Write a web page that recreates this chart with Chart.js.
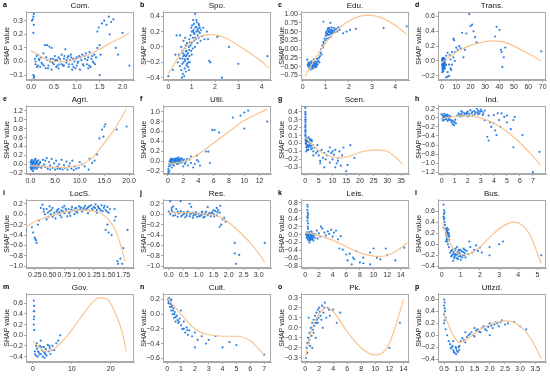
<!DOCTYPE html>
<html lang="en">
<head>
<meta charset="UTF-8">
<title>SHAP dependence plots</title>
<style>
  body { margin: 0; background: #fff; }
  #grid { position: relative; width: 550px; height: 376px; }
  #grid canvas { position: absolute; }
</style>
</head>
<body>
<div id="grid"></div>
<script src="https://cdn.jsdelivr.net/npm/chart.js"></script>
<script>
// scatter points [x, shap] and fitted curve points per panel

const comPts = [[0.05,0.33],[0.06,0.35],[0.04,0.31],[0.02,0.30],[0.06,0.27],[0.05,0.21],[0.05,-0.10],[0.06,-0.12],[0.07,-0.11],
  [0.08,0.02],[0.1,-0.02],[0.12,0.04],[0.15,-0.03],[0.18,0.01],[0.2,-0.04],[0.22,0.03],[0.25,-0.02],[0.27,0.06],[0.3,0.12],[0.32,-0.05],
  [0.35,0.01],[0.38,-0.03],[0.4,0.11],[0.42,0.0],[0.45,-0.06],[0.48,0.02],[0.5,-0.02],[0.52,0.04],[0.55,-0.04],[0.57,0.01],[0.6,0.03],
  [0.62,-0.02],[0.65,0.0],[0.67,0.05],[0.7,-0.03],[0.72,0.02],[0.75,0.09],[0.77,-0.01],[0.8,0.03],[0.82,-0.04],[0.85,0.01],[0.87,0.05],
  [0.9,-0.02],[0.92,0.02],[0.95,0.0],[0.97,-0.05],[1.0,0.03],[1.02,-0.01],[1.05,0.04],[1.07,-0.06],[1.1,0.01],[1.12,0.05],[1.15,-0.03],
  [1.18,0.02],[1.2,0.06],[1.22,-0.02],[1.25,0.03],[1.28,0.07],[1.3,-0.04],[1.33,0.04],[1.35,0.0],[1.38,0.05],[1.4,-0.02],[0.45,0.1],
  [0.35,0.12],[1.45,0.22],[1.48,0.25],[1.5,0.12],[1.52,0.05],[1.5,-0.1],[1.55,0.28],[1.6,0.3],[1.65,0.27],[1.7,0.33],[1.72,0.2],
  [1.75,0.29],[1.8,0.31],[1.85,0.1],[1.9,0.05],[2.0,0.21],[2.15,-0.03],[1.45,0.1],[0.28,-0.03],[0.6,-0.05],[0.9,-0.06],[1.25,-0.05],
  [0.15,0.05],[0.72,-0.03],[0.82,0.04],[1.0,-0.03],[0.1,0.0],[0.13,-0.04],[0.17,0.02],[0.23,-0.01],[0.33,0.03],[0.37,-0.05],
  [0.43,0.02],[0.47,-0.01],[0.53,0.01],[0.58,-0.03],[0.63,0.02],[0.68,-0.02],[0.73,0.04],[0.78,0.01],[0.83,-0.02],[0.88,0.03],
  [0.93,-0.04],[0.98,0.02],[1.03,0.0],[1.08,0.03],[1.13,-0.02],[1.17,0.04],[1.23,0.01],[1.27,-0.03],[1.32,0.02],[1.37,-0.01],[1.42,0.03]];
const comFit = [[0,0.08],[0.25,0.03],[0.5,0.0],[0.75,0.0],[1.0,0.02],[1.25,0.05],[1.5,0.09],[1.75,0.14],[2.0,0.18],[2.15,0.21]];

const spoPts = [[0.0,-0.38],[0.4,-0.2],[0.45,-0.1],[0.5,0.15],[0.5,-0.25],[0.55,-0.3],[0.55,0.0],[0.6,-0.15],[0.6,-0.05],[0.62,-0.35],
  [0.65,-0.2],[0.65,0.08],[0.68,-0.1],[0.7,-0.28],[0.7,-0.02],[0.72,-0.18],[0.75,-0.12],[0.75,-0.32],[0.78,-0.05],[0.8,-0.22],[0.8,0.05],
  [0.82,-0.15],[0.85,-0.08],[0.85,-0.26],[0.88,0.0],[0.9,-0.12],[0.9,0.1],[0.92,-0.2],[0.95,0.02],[0.95,0.15],[0.98,-0.05],[1.0,0.2],
  [1.0,0.05],[1.02,0.28],[1.05,0.12],[1.05,-0.02],[1.08,0.22],[1.1,0.3],[1.1,0.08],[1.12,0.17],[1.15,0.43],[1.15,0.25],[1.18,0.1],
  [1.2,0.2],[1.22,0.32],[1.25,0.15],[1.25,0.05],[1.28,0.24],[1.3,0.12],[1.32,0.28],[1.35,0.18],[1.38,0.08],[1.4,0.22],[1.45,0.14],
  [1.5,0.25],[1.55,0.1],[1.65,0.2],[1.7,0.1],[1.75,-0.18],[1.8,-0.2],[2.1,0.13],[2.3,-0.4],[2.6,0.0],[3.0,-0.22],[4.25,-0.12],
  [0.35,0.15],[0.3,-0.1],[0.2,-0.3],[0.58,-0.4],[0.68,-0.38],[0.72,0.12],[0.88,-0.3],[1.0,-0.1],[0.98,0.25],[1.2,0.35],[1.06,0.35],
  [0.78,-0.24],[0.62,-0.08],[0.84,-0.16],[0.92,0.06],[1.14,0.0],[1.3,0.2],[0.5,-0.15],[0.75,0.02],[0.6,-0.22],[0.65,-0.12],
  [0.7,-0.16],[0.75,-0.06],[0.8,-0.1],[0.85,-0.2],[0.9,-0.04],[1.1,0.18],[1.15,0.12],[1.2,0.26],[1.25,0.22],[1.3,0.3],[1.35,0.25],[1.05,0.2]];
const spoFit = [[0,-0.35],[0.5,-0.1],[1.0,0.07],[1.5,0.15],[1.9,0.16],[2.5,0.11],[3.0,0.02],[3.5,-0.08],[4.0,-0.19],[4.3,-0.27]];

const eduPts = [[0.2,-0.3],[0.22,-0.45],[0.25,-0.5],[0.28,-0.38],[0.3,-0.55],[0.32,-0.42],[0.35,-0.48],[0.38,-0.35],[0.4,-0.52],
  [0.42,-0.4],[0.45,-0.46],[0.48,-0.3],[0.5,-0.5],[0.52,-0.42],[0.55,-0.36],[0.58,-0.48],[0.6,-0.4],[0.62,-0.28],[0.65,-0.44],
  [0.68,-0.33],[0.7,-0.25],[0.72,-0.38],[0.75,-0.2],[0.3,-0.48],[0.4,-0.45],[0.5,-0.38],[0.55,-0.52],[0.45,-0.55],[0.35,-0.58],
  [0.6,-0.5],[0.25,-0.4],[0.78,-0.1],[0.8,0.0],[0.82,-0.15],[0.85,0.1],[0.88,0.05],[0.9,0.2],[0.92,0.15],[0.95,0.3],[0.98,0.25],
  [1.0,0.38],[1.02,0.5],[1.05,0.45],[1.08,0.55],[1.1,0.4],[1.12,0.48],[1.15,0.6],[1.18,0.42],[1.2,0.5],[1.22,0.35],[1.25,0.55],
  [1.28,0.45],[1.3,0.52],[1.35,0.6],[1.4,0.48],[1.45,0.58],[1.5,0.5],[1.55,0.62],[1.05,0.3],[1.15,0.32],[1.25,0.62],[1.0,0.45],
  [0.9,0.78],[1.2,0.75],[1.6,0.55],[1.9,0.5],[2.05,0.55],[2.3,0.58],[3.5,0.6],[4.5,0.65],[1.75,0.45],[1.1,0.6],
  [0.33,-0.5],[0.43,-0.5],[0.47,-0.42],[0.53,-0.47],[0.57,-0.44],[0.63,-0.36],[0.37,-0.4],[0.27,-0.45],[1.12,0.52],[1.18,0.56],
  [1.22,0.46],[1.28,0.5],[1.32,0.47],[1.07,0.42],[1.17,0.5],[1.38,0.54]];
const eduFit = [[0.1,-0.78],[0.5,-0.32],[1.0,0.18],[1.5,0.55],[2.0,0.8],[2.5,0.94],[2.85,0.97],[3.5,0.87],[4.0,0.68],[4.5,0.42]];

const transPts = [[0.2,0.0],[0.3,-0.05],[0.4,-0.1],[0.5,0.02],[0.5,-0.12],[0.6,-0.03],[0.7,-0.08],[0.8,0.0],[0.9,-0.14],[1.0,-0.06],
  [1.1,0.01],[1.2,-0.1],[1.3,-0.02],[1.4,0.03],[1.5,-0.05],[1.6,0.0],[1.8,-0.08],[2.0,0.02],[2.2,-0.03],[2.5,0.01],[0.3,-0.15],
  [0.6,0.04],[1.0,0.0],[1.5,0.02],[2.8,-0.05],[0.4,0.03],[1.2,0.04],[3,-0.22],[4,-0.21],[5,-0.2],[6,-0.1],[4,-0.15],[5,-0.05],
  [6,0.02],[7,0.12],[7,-0.05],[4,0.11],[3,0.07],[8,0.3],[8.5,0.28],[9,0.12],[8,0.05],[9,0.0],[10,0.18],[11,0.15],[12,0.2],[13,0.17],
  [14,0.38],[15,0.05],[16,0.15],[17,0.37],[19,0.63],[20,0.47],[21,0.49],[22,0.4],[23,0.32],[24,0.25],[24.5,0.24],[37,0.33],
  [38,0.46],[40,0.42],[41,0.15],[41.5,0.12],[42,-0.08],[43,0.05],[44,0.18],[69,0.13],[6.5,-0.12],[5.5,0.08],
  [0.3,0.02],[0.5,-0.08],[0.7,0.02],[0.9,-0.04],[1.1,-0.12],[1.3,0.04],[1.7,-0.02],[1.9,0.03],[2.1,-0.1],[2.4,-0.06],[0.2,-0.06],
  [0.8,-0.11],[1.4,-0.07]];
const transFit = [[0,-0.02],[10,0.12],[20,0.21],[30,0.26],[36,0.27],[42,0.26],[50,0.2],[60,0.1],[69,0.0]];

const agriPts = [[0.0,0.05],[0.1,-0.05],[0.2,0.08],[0.3,-0.1],[0.4,0.0],[0.5,0.06],[0.6,-0.08],[0.7,0.03],[0.8,-0.03],[0.9,0.1],
  [1.0,-0.06],[1.1,0.02],[1.2,0.07],[1.3,-0.1],[1.4,0.04],[1.5,-0.02],[1.6,0.09],[1.8,-0.05],[2.0,0.05],[2.2,-0.08],[0.2,-0.12],
  [0.5,-0.15],[1.0,0.12],[0.3,0.1],[2.5,0.1],[2.8,0.0],[3.0,-0.06],[3.3,0.14],[3.5,-0.1],[3.8,0.05],[4.0,-0.03],[4.3,0.12],
  [4.5,-0.08],[4.8,0.02],[5.0,-0.12],[5.2,0.08],[5.5,-0.05],[5.8,0.0],[6.0,-0.1],[6.3,0.1],[6.5,-0.12],[6.8,-0.02],[7.0,-0.08],
  [7.3,0.06],[7.5,-0.12],[7.8,-0.04],[8.0,0.02],[8.3,-0.1],[8.5,0.08],[8.8,-0.13],[9.0,-0.05],[9.3,-0.1],[4.0,-0.12],[5.5,-0.1],
  [3.0,0.08],[2.5,-0.04],[10,0.05],[10.5,0.0],[11,-0.05],[11.8,-0.12],[12.5,0.03],[13,0.08],[13.5,0.22],[12,0.12],[14,0.58],
  [14.5,0.78],[14.8,0.62],[15,0.85],[15.2,0.9],[17.5,0.78],[19.5,0.85],[9.8,-0.08],
  [0.15,0.0],[0.35,0.04],[0.45,-0.06],[0.55,0.02],[0.65,-0.03],[0.75,0.07],[0.85,-0.1],[0.95,0.0],[1.15,-0.04],[1.25,0.02],
  [1.35,0.06],[1.45,-0.07],[1.7,0.0],[1.9,0.03],[0.05,-0.08],[0.25,0.04]];
const agriFit = [[0,-0.03],[3,-0.05],[6,-0.07],[9,-0.05],[11,0.02],[13,0.2],[15,0.48],[17,0.78],[19.5,1.25]];

const utilPts = [[0.0,-0.25],[0.05,-0.2],[0.05,-0.15],[0.1,-0.1],[0.1,-0.22],[0.15,-0.05],[0.2,0.0],[0.2,-0.18],[0.3,0.03],
  [0.3,-0.08],[0.4,-0.02],[0.5,0.02],[0.5,-0.12],[0.6,0.05],[0.7,-0.03],[0.8,0.0],[0.9,0.06],[1.0,-0.02],[1.1,0.03],[1.2,0.07],
  [1.3,0.01],[1.4,-0.04],[1.5,0.04],[1.6,0.0],[1.7,0.06],[1.8,-0.02],[2.0,0.03],[2.2,-0.05],[2.4,0.02],[2.6,-0.08],[2.8,0.04],
  [3.0,0.1],[3.0,-0.03],[0.4,0.06],[0.6,-0.06],[1.0,0.05],[1.4,0.08],[0.8,-0.08],[1.2,-0.05],[2.0,-0.1],[2.5,0.05],[1.8,0.06],
  [3.3,-0.12],[3.5,-0.05],[3.8,0.12],[3.8,0.03],[4.0,0.0],[4.2,-0.08],[5.0,0.2],[5.3,0.2],[5.5,-0.03],[5.8,0.63],[6.1,0.63],
  [6.7,0.58],[8.5,0.88],[9.5,0.92],[10,0.98],[10,0.66],[10.5,1.02],[13,0.8],
  [0.35,0.0],[0.45,0.03],[0.55,-0.03],[0.65,0.02],[0.75,0.04],[0.85,-0.02],[0.95,0.02],[1.05,0.0],[1.15,-0.03],[1.25,0.03],
  [1.35,0.05],[1.45,0.01],[1.55,-0.02],[1.65,0.03],[1.9,0.0],[2.1,0.04],[2.3,-0.02]];
const utilFit = [[0,-0.05],[2,0.0],[4,0.15],[6,0.37],[8,0.6],[10,0.82],[13,1.05]];

const scenPts = [[0.1,0.45],[0.1,0.4],[0.15,0.36],[0.1,0.33],[0.2,0.3],[0.1,0.27],[0.15,0.24],[0.1,0.2],[0.2,0.17],[0.1,0.14],
  [0.15,0.11],[0.25,0.08],[0.1,0.05],[0.3,0.03],[0.3,0.0],[0.5,-0.05],[0.6,0.07],[0.8,-0.02],[1.0,0.04],[1.2,-0.08],[1.4,0.02],
  [1.6,0.06],[1.8,-0.04],[2.0,0.0],[2.2,-0.07],[2.5,0.03],[2.8,-0.02],[3.0,-0.1],[0.5,0.02],[0.7,-0.08],[1.0,-0.03],[1.3,0.08],
  [1.7,0.01],[2.3,0.05],[0.4,-0.1],[3.5,-0.05],[4,-0.12],[4.5,-0.1],[5,-0.15],[5.5,-0.22],[5.5,-0.25],[6,-0.08],[6.5,-0.18],
  [7,-0.12],[7.5,-0.2],[8,-0.15],[8.5,-0.1],[9,-0.24],[9.5,-0.12],[10,-0.2],[10.5,-0.14],[11,-0.08],[11.5,-0.25],[12,-0.18],
  [12.5,-0.1],[13,-0.28],[13.5,-0.15],[14,-0.05],[15,-0.35],[15.5,-0.27],[16.5,-0.02],[18,-0.18],[3,-0.15],[4.5,-0.02],[7,-0.3],
  [9,-0.05],[11,-0.3],[12,-0.22],[10,-0.1],
  [0.05,0.38],[0.05,0.3],[0.05,0.22],[0.05,0.16],[0.05,0.1],[0.2,0.0],[0.4,0.04],[0.6,-0.03],[0.9,0.03],[1.1,-0.05],[1.5,-0.02],
  [1.9,0.04],[2.1,-0.03],[2.6,-0.06]];
const scenFit = [[0,0.08],[3,-0.03],[6,-0.11],[10,-0.17],[13,-0.18],[17,-0.15],[21,-0.1],[26,-0.08],[30,-0.1],[33,-0.17],[35.5,-0.26]];

const indPts = [[0.0,0.08],[0.05,-0.02],[0.1,0.05],[0.1,-0.06],[0.15,0.02],[0.2,0.09],[0.2,-0.04],[0.25,0.0],[0.3,0.06],
  [0.35,-0.03],[0.4,0.03],[0.45,-0.07],[0.5,0.05],[0.55,0.0],[0.6,-0.04],[0.65,0.04],[0.7,-0.05],[0.75,-0.1],[0.8,-0.06],
  [0.85,-0.14],[0.9,-0.08],[0.95,-0.16],[1.0,-0.1],[1.05,-0.04],[1.1,-0.12],[1.2,0.05],[1.3,0.1],[1.4,0.03],[1.5,0.08],[1.6,0.12],
  [1.7,0.05],[1.8,0.1],[1.9,0.07],[2.0,0.14],[2.1,0.09],[2.2,0.17],[2.3,0.1],[2.4,0.05],[2.5,0.15],[2.6,0.12],[2.7,0.2],[2.8,0.16],
  [2.9,0.1],[3.0,0.18],[3.1,0.14],[3.2,0.1],[3.3,0.16],[1.5,0.15],[2.0,0.03],[2.8,0.08],[3.3,-0.05],[3.5,-0.42],[3.6,-0.5],
  [3.6,0.05],[3.8,-0.2],[4.0,-0.12],[4.0,0.06],[4.1,-0.28],[4.2,-0.38],[4.3,0.1],[4.5,-0.2],[4.6,0.1],[4.8,0.02],[5.0,0.05],
  [5.0,-0.1],[5.3,-0.25],[5.5,-0.05],[5.5,-0.65],[5.6,0.02],[6.2,-0.38],[7.0,-1.2],[7.5,-0.75],[3.7,-0.1],[4.4,-0.05],
  [0.12,0.0],[0.22,0.04],[0.32,-0.02],[0.42,0.07],[0.52,-0.04],[0.62,0.02],[1.35,0.06],[1.55,0.04],[1.75,0.09],[1.95,0.11],
  [2.15,0.05],[2.35,0.13],[2.55,0.08],[2.75,0.12],[2.95,0.14],[3.15,0.06]];
const indFit = [[0,-0.02],[1,0.03],[2,0.05],[3,0.0],[4,-0.12],[5,-0.3],[6,-0.55],[7,-0.85],[7.6,-1.05]];

const locsPts = [[0.35,0.12],[0.38,0.18],[0.4,0.05],[0.42,0.0],[0.45,0.1],[0.48,-0.05],[0.5,0.06],[0.52,0.0],[0.55,0.12],
  [0.58,0.03],[0.6,-0.08],[0.62,0.05],[0.65,0.1],[0.68,-0.02],[0.7,0.07],[0.72,0.13],[0.75,0.02],[0.78,0.08],[0.8,-0.04],
  [0.82,0.1],[0.85,0.05],[0.88,0.14],[0.9,0.07],[0.92,0.0],[0.95,0.12],[0.98,0.08],[1.0,0.15],[1.02,0.1],[1.05,0.05],[1.08,0.12],
  [1.1,0.16],[1.12,0.09],[1.15,0.13],[1.18,0.07],[1.2,0.17],[1.22,0.11],[1.25,0.14],[1.28,0.19],[1.3,0.08],[1.32,0.15],[1.35,0.1],
  [1.38,0.17],[1.4,0.06],[1.42,0.12],[1.45,0.08],[1.48,0.14],[1.5,0.03],[1.52,0.1],[0.55,-0.05],[0.7,-0.06],[0.85,-0.03],
  [0.5,0.15],[0.65,0.02],[0.95,0.05],[1.15,0.02],[0.45,-0.1],[1.3,0.03],[0.75,0.16],[0.1,-0.3],[0.2,-0.25],[0.22,-0.35],
  [0.25,-0.45],[0.27,-0.5],[0.28,-0.55],[0.26,-0.48],[0.3,-0.2],[0.32,-0.12],[1.45,-0.3],[1.5,-0.35],[1.55,-0.4],[1.48,-0.2],
  [1.6,-0.12],[1.6,0.1],[1.62,-0.05],[1.65,-0.9],[1.66,-0.95],[1.7,-0.85],[1.73,-0.95],[1.75,-0.65],[1.82,-0.3],
  [0.4,0.1],[0.47,0.03],[0.53,0.08],[0.57,-0.02],[0.63,0.08],[0.67,0.04],[0.73,0.05],[0.77,0.11],[0.83,0.02],[0.87,0.09],
  [0.93,0.11],[0.97,0.03],[1.03,0.13],[1.07,0.09],[1.13,0.11],[1.17,0.15],[1.23,0.08],[1.27,0.12],[1.33,0.12],[1.37,0.07],
  [1.43,0.16],[1.47,0.05]];
const locsFit = [[0.1,-0.25],[0.25,-0.14],[0.5,-0.04],[0.75,0.04],[1.0,0.08],[1.2,0.07],[1.4,0.0],[1.55,-0.18],[1.65,-0.4],[1.78,-0.9]];

const resPts = [[0.0,0.05],[0.05,0.0],[0.1,0.08],[0.15,-0.03],[0.2,0.03],[0.25,0.1],[0.3,-0.05],[0.35,0.02],[0.4,0.06],
  [0.45,-0.02],[0.5,0.04],[0.55,-0.06],[0.6,0.01],[0.65,0.05],[0.7,-0.04],[0.75,0.02],[0.8,-0.07],[0.85,0.0],[0.9,0.04],
  [0.95,-0.05],[1.0,0.01],[1.05,-0.03],[1.1,0.03],[1.15,-0.06],[1.2,0.0],[1.25,0.05],[1.3,-0.02],[1.35,0.02],[1.4,-0.04],
  [1.45,0.04],[1.5,0.0],[1.55,0.06],[1.6,-0.02],[1.65,0.08],[1.7,0.03],[0.3,0.05],[0.6,-0.03],[0.9,-0.01],[1.2,-0.05],[0.5,0.0],
  [0.8,0.03],[1.1,-0.01],[0.05,0.25],[0.4,0.25],[0.1,0.12],[0.15,0.15],[0.7,0.2],[0.75,0.14],[1.3,0.14],[1.6,0.12],[1.72,0.16],
  [1.5,0.08],[1.8,-0.1],[1.9,-0.14],[1.75,-0.2],[1.7,-0.24],[1.85,-0.07],[2.2,-0.55],[2.2,-0.75],[2.25,-0.95],[2.35,-0.78],[3.2,-0.55],
  [0.12,0.04],[0.22,-0.02],[0.32,0.02],[0.42,-0.04],[0.52,0.02],[0.62,0.04],[0.72,0.0],[0.82,-0.03],[0.92,0.02],[1.02,-0.04],
  [1.12,0.05],[1.22,0.02],[1.32,0.0],[1.42,0.02],[1.52,-0.04],[1.62,0.04]];
const resFit = [[0,0.03],[0.5,0.03],[1.0,0.02],[1.5,-0.02],[1.8,-0.08],[2.1,-0.2],[2.4,-0.36],[2.7,-0.54],[3.0,-0.75],[3.2,-0.92]];

const leisPts = [[0.3,0.75],[0.35,0.7],[0.3,0.62],[0.4,0.5],[0.35,0.42],[0.3,0.35],[0.4,0.28],[0.35,0.2],[0.4,0.15],[0.1,0.0],
  [0.2,-0.08],[0.3,0.05],[0.4,-0.12],[0.5,-0.02],[0.6,0.06],[0.7,-0.1],[0.8,0.0],[0.9,-0.05],[1.0,0.03],[1.1,-0.12],[1.2,-0.03],
  [1.3,0.02],[1.4,-0.08],[1.5,0.0],[0.5,-0.15],[0.7,0.02],[1.0,-0.08],[0.3,-0.05],[0.6,-0.2],[0.9,0.08],[1.2,-0.15],[0.2,0.05],
  [0.8,-0.12],[1.7,0.1],[2.0,0.03],[2.2,-0.05],[2.5,0.15],[2.8,0.05],[3.0,-0.02],[3.3,0.08],[3.5,0.02],[3.8,0.12],[4.0,-0.05],
  [4.2,0.05],[4.5,0.1],[4.8,-0.12],[5.0,-0.35],[5.2,-0.04],[2.3,0.2],[1.8,-0.1],[5.5,-0.38],[6.0,-0.5],[6.2,-0.65],[6.5,-0.48],
  [6.8,-0.75],[7.0,-0.58],[7.2,-0.62],[8.0,-0.7],[8.5,-0.72],[8.5,-0.58],[9.5,-0.45],[10,-0.35],[10.5,-0.58],[11,-0.62],
  [11.8,-0.35],[13.2,-0.65],[14.5,-0.33],[9.5,-0.75],[7.5,-0.42],[12,-0.52],
  [0.35,0.55],[0.3,0.45],[0.45,0.0],[0.55,-0.08],[0.65,0.02],[0.75,-0.05],[0.85,-0.02],[0.95,-0.1],[1.05,0.0],[1.15,-0.05],
  [0.25,-0.02],[0.45,-0.06],[0.55,0.04],[0.75,-0.14],[0.65,-0.1]];
const leisFit = [[0,0.05],[2,-0.02],[4,-0.14],[6,-0.3],[8,-0.46],[10,-0.54],[11,-0.55],[12,-0.52],[13.5,-0.4],[15,-0.2]];

const busPts = [[0.1,0.72],[0.12,0.62],[0.15,0.58],[0.1,0.5],[0.12,0.45],[0.15,0.4],[0.18,0.35],[0.1,0.3],[0.2,0.28],[0.22,0.2],
  [0.25,0.25],[0.25,0.15],[0.28,0.3],[0.28,0.1],[0.3,0.22],[0.3,0.05],[0.32,0.18],[0.35,0.27],[0.35,0.12],[0.38,0.2],[0.4,0.08],
  [0.4,0.15],[0.22,0.05],[0.33,0.0],[0.38,-0.05],[0.45,-0.15],[0.5,-0.22],[0.55,-0.1],[0.6,-0.18],[0.65,-0.25],[0.7,-0.12],
  [0.75,-0.2],[0.8,-0.15],[0.85,-0.27],[0.9,-0.1],[0.95,-0.18],[1.0,-0.22],[1.05,-0.13],[1.1,-0.2],[1.15,-0.08],[1.2,-0.16],
  [1.25,-0.24],[1.3,-0.12],[1.4,-0.18],[1.5,-0.05],[1.6,-0.15],[1.7,-0.1],[1.8,-0.02],[1.9,-0.12],[2.0,-0.06],[2.1,-0.15],
  [0.6,-0.3],[0.8,-0.05],[1.0,-0.28],[1.2,-0.1],[1.45,0.05],[0.7,-0.18],[0.9,-0.22],[2.5,-0.05],[2.5,-0.2],[3.0,0.0],[3.2,0.05],[5.2,-0.2],
  [0.23,0.22],[0.27,0.18],[0.29,0.26],[0.31,0.12],[0.34,0.2],[0.36,0.16],[0.26,0.08],[0.5,-0.12],[0.55,-0.2],[0.62,-0.14],
  [0.68,-0.22],[0.72,-0.08],[0.78,-0.25],[0.82,-0.18],[0.88,-0.12],[0.92,-0.16],[0.98,-0.1],[1.08,-0.24],[1.12,-0.14],[1.18,-0.2],
  [0.12,0.55],[0.14,0.48]];
const busFit = [[0.05,0.38],[0.3,0.14],[0.6,-0.08],[1.0,-0.19],[1.4,-0.18],[2.0,-0.05],[2.5,0.12],[3.0,0.28],[3.5,0.38],[3.8,0.4],[4.2,0.35],[4.6,0.18],[5.2,-0.35]];

const govPts = [[0.2,0.65],[0.3,0.55],[0.2,0.45],[0.3,0.35],[0.2,0.2],[0.3,0.1],[0.5,-0.3],[0.8,-0.38],[1.0,-0.25],[1.2,-0.4],
  [1.5,-0.32],[1.8,-0.2],[2.0,-0.35],[2.3,-0.28],[2.5,-0.4],[2.8,-0.22],[3.0,-0.33],[3.3,-0.26],[3.5,-0.38],[3.8,-0.18],[4.0,-0.3],
  [4.3,-0.24],[4.5,-0.35],[5.0,-0.2],[5.5,-0.28],[6.0,-0.15],[6.5,-0.1],[7.0,0.0],[1.0,-0.15],[2.0,-0.1],[0.8,-0.2],[3.0,-0.42],
  [0.3,0.45],[0.5,-0.35],[1.3,-0.3],[1.7,-0.36],[2.2,-0.22],[2.7,-0.3],[3.2,-0.35],[4.2,-0.2],[4.8,-0.28],[0.2,0.3]];
const govFit = [[0,-0.1],[3,-0.3],[6,-0.22],[10,0.1],[14,0.5],[17,0.7],[19,0.68],[21,0.45],[23,0.05],[24,-0.3]];

const cultPts = [[0.05,0.2],[0.1,0.15],[0.15,0.22],[0.2,0.1],[0.25,0.18],[0.3,0.05],[0.35,0.12],[0.4,0.0],[0.45,0.08],[0.5,-0.05],
  [0.55,0.03],[0.6,-0.1],[0.7,-0.02],[0.8,-0.12],[0.9,-0.06],[1.0,-0.15],[1.1,-0.2],[1.2,-0.1],[1.3,-0.25],[1.4,-0.18],[1.5,-0.28],
  [1.6,-0.22],[1.8,-0.3],[2.0,-0.25],[2.2,-0.35],[2.5,-0.3],[2.8,-0.4],[3.0,-0.35],[3.5,-0.3],[4.0,-0.45],[4.5,-0.38],[5.0,-0.42],
  [2.0,-0.45],[1.0,0.05],[0.3,0.2],[7.0,-0.55],
  [0.12,0.18],[0.22,0.14],[0.32,0.1],[0.42,0.05],[0.52,0.0],[0.62,-0.04],[0.75,-0.08],[0.85,-0.1],[1.2,-0.2],[1.45,-0.22]];
const cultFit = [[0,0.22],[1,0.0],[2,-0.2],[3,-0.28],[4,-0.3],[5,-0.3],[6,-0.36],[7,-0.55]];

const pkPts = [[0.1,-0.3],[0.2,-0.2],[0.3,-0.25],[0.4,-0.1],[0.5,-0.15],[0.6,-0.05],[0.7,-0.18],[0.8,0.0],[0.9,-0.08],[1.0,0.05],
  [1.1,-0.02],[1.2,0.08],[1.3,0.02],[1.4,0.12],[1.5,0.05],[1.6,0.15],[1.7,0.08],[1.8,0.18],[1.9,0.1],[2.0,0.2],[2.2,0.12],[2.4,0.22],
  [2.6,0.15],[2.8,0.25],[3.0,0.1],[3.2,0.2],[3.5,0.12],[4.0,0.18],[4.5,0.05],[5.0,0.15],[1.5,-0.1],[1.0,-0.2],[2.5,0.0],[0.5,0.1],
  [12,-0.2],[13.5,0.05],
  [0.3,-0.15],[0.6,-0.12],[0.9,0.0],[1.2,-0.05],[1.6,0.05],[2.1,0.16],[2.3,0.08],[2.7,0.2],[3.4,0.18],[1.8,0.05]];
const pkFit = [[0,-0.3],[1,0.0],[2,0.14],[3,0.2],[4,0.16],[6,-0.04],[8,-0.2],[10,-0.27],[11,-0.25],[12,-0.15],[13,0.04],[14,0.28]];

const utlzdPts = [[0.5,0.6],[0.5,0.5],[0.52,0.45],[0.5,0.35],[0.55,0.3],[0.5,0.2],[0.55,0.1],[0.6,0.0],[0.65,-0.1],[0.7,-0.15],
  [0.75,-0.2],[0.8,-0.25],[0.85,-0.3],[0.9,-0.22],[0.95,-0.28],[1.0,-0.18],[0.8,-0.1],[0.9,-0.32],[1.0,-0.25],[1.05,-0.1],
  [1.1,-0.05],[1.2,-0.12],[1.3,0.0],[1.4,0.05],[1.5,-0.02],[1.6,0.1],[1.7,0.05],[1.8,0.15],[1.9,0.08],[2.0,0.2],[2.1,0.12],
  [2.2,0.22],[2.3,0.15],[2.4,0.25],[2.5,0.18],[2.6,0.2],[2.8,0.22],[3.0,0.15],[3.2,0.1],[1.5,0.12],[1.2,0.05],[2.0,0.0],
  [0.52,0.55],[0.53,0.4],[0.52,0.25],[0.72,-0.22],[0.78,-0.18],[0.82,-0.28],[0.88,-0.2],[0.92,-0.26],[0.98,-0.2],[1.15,-0.08],
  [1.25,-0.03],[1.35,0.02],[1.45,0.0],[1.55,0.08],[1.65,0.06],[1.75,0.12],[1.85,0.1],[1.95,0.14],[2.05,0.16],[2.15,0.18],
  [2.25,0.2],[2.35,0.22]];
const utlzdFit = [[0.5,0.35],[0.8,0.0],[1.0,-0.12],[1.3,-0.05],[1.7,0.1],[2.0,0.18],[2.5,0.24],[3.0,0.15],[3.4,-0.1],[3.7,-0.4]];

// tick values per panel
const ticksA = { x: [0, 0.5, 1, 1.5, 2], y: [-0.1, 0, 0.1, 0.2, 0.3] };
const ticksB = { x: [0, 1, 2, 3, 4], y: [-0.4, -0.2, 0, 0.2, 0.4] };
const ticksC = { x: [0, 1, 2, 3, 4], y: [-0.75, -0.5, -0.25, 0, 0.25, 0.5, 0.75, 1] };
const ticksD = { x: [0, 10, 20, 30, 40, 50, 60, 70], y: [-0.2, 0, 0.2, 0.4, 0.6] };
const ticksE = { x: [0, 5, 10, 15, 20], y: [-0.2, 0, 0.2, 0.4, 0.6, 0.8, 1, 1.2] };
const ticksF = { x: [0, 2, 4, 6, 8, 10, 12], y: [-0.2, 0, 0.2, 0.4, 0.6, 0.8, 1] };
const ticksG = { x: [0, 5, 10, 15, 20, 25, 30, 35], y: [-0.3, -0.2, -0.1, 0, 0.1, 0.2, 0.3, 0.4] };
const ticksH = { x: [0, 1, 2, 3, 4, 5, 6, 7], y: [-1.2, -1, -0.8, -0.6, -0.4, -0.2, 0, 0.2] };
const ticksI = { x: [0.25, 0.5, 0.75, 1, 1.25, 1.5, 1.75], y: [-1, -0.8, -0.6, -0.4, -0.2, 0, 0.2] };
const ticksJ = { x: [0, 0.5, 1, 1.5, 2, 2.5, 3], y: [-1, -0.8, -0.6, -0.4, -0.2, 0, 0.2] };
const ticksK = { x: [0, 2, 4, 6, 8, 10, 12, 14], y: [-0.8, -0.6, -0.4, -0.2, 0, 0.2, 0.4, 0.6, 0.8] };
const ticksL = { x: [0, 1, 2, 3, 4, 5], y: [-0.4, -0.2, 0, 0.2, 0.4, 0.6] };
const ticksM = { x: [0, 10, 20], y: [-0.4, -0.2, 0, 0.2, 0.4, 0.6] };
const ticksN = { x: [0, 1, 2, 3, 4, 5, 6, 7], y: [-0.6, -0.4, -0.2, 0, 0.2] };
const ticksO = { x: [0, 2, 4, 6, 8, 10, 12, 14], y: [-0.3, -0.2, -0.1, 0, 0.1, 0.2, 0.3] };
const ticksP = { x: [0.5, 1, 1.5, 2, 2.5, 3, 3.5], y: [-0.4, -0.2, 0, 0.2, 0.4, 0.6] };

const panels = [
  { id: 'a', title: 'Com.',   pts: comPts,   fit: comFit,   t: ticksA, xr: [-0.11, 2.25], yr: [-0.136, 0.367], xd: 1, yd: 1 },
  { id: 'b', title: 'Spo.',   pts: spoPts,   fit: spoFit,   t: ticksB, xr: [-0.23, 4.4],  yr: [-0.43, 0.46],   xd: 0, yd: 1 },
  { id: 'c', title: 'Edu.',   pts: eduPts,   fit: eduFit,   t: ticksC, xr: [-0.07, 4.6],  yr: [-0.88, 1.07],   xd: 0, yd: 2 },
  { id: 'd', title: 'Trans.', pts: transPts, fit: transFit, t: ticksD, xr: [-2.7, 72.3],  yr: [-0.256, 0.665], xd: 0, yd: 1 },
  { id: 'e', title: 'Agri.',  pts: agriPts,  fit: agriFit,  t: ticksE, xr: [-0.9, 21],    yr: [-0.22, 1.32],   xd: 1, yd: 1 },
  { id: 'f', title: 'Util.',  pts: utilPts,  fit: utilFit,  t: ticksF, xr: [-0.65, 13.5], yr: [-0.25, 1.12],   xd: 0, yd: 1 },
  { id: 'g', title: 'Scen.',  pts: scenPts,  fit: scenFit,  t: ticksG, xr: [-1.5, 37.9],  yr: [-0.385, 0.48],  xd: 0, yd: 1 },
  { id: 'h', title: 'Ind.',   pts: indPts,   fit: indFit,   t: ticksH, xr: [-0.28, 8.0],  yr: [-1.24, 0.27],   xd: 0, yd: 1 },
  { id: 'i', title: 'LocS.',  pts: locsPts,  fit: locsFit,  t: ticksI, xr: [0.1, 1.93],   yr: [-1.03, 0.28],   xd: 2, yd: 1 },
  { id: 'j', title: 'Res.',   pts: resPts,   fit: resFit,   t: ticksJ, xr: [-0.19, 3.41], yr: [-1.03, 0.28],   xd: 1, yd: 1 },
  { id: 'k', title: 'Leis.',  pts: leisPts,  fit: leisFit,  t: ticksK, xr: [-0.63, 15.2], yr: [-0.84, 0.88],   xd: 0, yd: 1 },
  { id: 'l', title: 'Bus.',   pts: busPts,   fit: busFit,   t: ticksL, xr: [-0.19, 5.45], yr: [-0.43, 0.81],   xd: 0, yd: 1 },
  { id: 'm', title: 'Gov.',   pts: govPts,   fit: govFit,   t: ticksM, xr: [-1.8, 26],    yr: [-0.5, 0.78],    xd: 0, yd: 1 },
  { id: 'n', title: 'Cult.',  pts: cultPts,  fit: cultFit,  t: ticksN, xr: [-0.3, 7.5],   yr: [-0.65, 0.28],   xd: 0, yd: 1 },
  { id: 'o', title: 'Pk.',    pts: pkPts,    fit: pkFit,    t: ticksO, xr: [-0.6, 14.8],  yr: [-0.34, 0.34],   xd: 0, yd: 1 },
  { id: 'p', title: 'Utlzd.', pts: utlzdPts, fit: utlzdFit, t: ticksP, xr: [0.3, 3.85],   yr: [-0.45, 0.7],    xd: 1, yd: 1 }
];

const FONT = '"Liberation Sans", Arial, sans-serif';
Chart.defaults.font.family = FONT;

const fmt = (v, d) => Number(v).toFixed(d).replace('-', '\u2212');

// gray box round the plot and the bold panel letter
const frame = {
  id: 'frame',
  beforeDatasetsDraw(chart) {
    const { ctx, chartArea: a } = chart;
    ctx.save();
    ctx.strokeStyle = '#a9a9a9';
    ctx.lineWidth = 1;
    ctx.strokeRect(Math.round(a.left) + 0.5, Math.round(a.top) + 0.5,
      Math.round(a.right - a.left) - 1, Math.round(a.bottom - a.top) - 1);
    ctx.restore();
  },
  afterDraw(chart, args, opts) {
    const ctx = chart.ctx;
    ctx.save();
    ctx.font = 'bold 7px ' + FONT;
    ctx.fillStyle = '#000';
    ctx.textBaseline = 'top';
    ctx.fillText(opts.letter, 3, 2);
    ctx.restore();
  }
};

const grid = document.getElementById('grid');
const colLeft = [0, 137, 275, 412];

panels.forEach((p, i) => {
  const cv = document.createElement('canvas');
  cv.width = 138;
  cv.height = 94;
  cv.style.left = colLeft[i % 4] + 'px';
  cv.style.top = Math.floor(i / 4) * 94 + 'px';
  grid.appendChild(cv);

  new Chart(cv, {
    type: 'scatter',
    data: {
      datasets: [
        {
          data: p.fit.map(([x, y]) => ({ x, y })),
          showLine: true,
          borderColor: '#f9c48e',
          borderWidth: 1.2,
          pointRadius: 0,
          cubicInterpolationMode: 'monotone',
          fill: false
        },
        {
          data: p.pts.map(([x, y]) => ({ x, y })),
          backgroundColor: 'rgba(28,118,222,0.9)',
          borderWidth: 0,
          pointRadius: 1.1
        }
      ]
    },
    options: {
      responsive: false,
      animation: false,
      devicePixelRatio: 1,
      layout: { padding: { left: 1, right: 2, top: 0, bottom: 1 } },
      plugins: {
        legend: { display: false },
        tooltip: { enabled: false },
        title: {
          display: true,
          text: p.title,
          fullSize: false,
          color: '#111',
          font: { size: 8, weight: 'normal' },
          padding: { top: 1, bottom: 1 }
        },
        frame: { letter: p.id }
      },
      scales: {
        x: {
          type: 'linear',
          min: p.xr[0],
          max: p.xr[1],
          afterFit: s => { s.height = 13; },
          afterBuildTicks: s => { s.ticks = p.t.x.map(v => ({ value: v })); },
          ticks: {
            callback: v => fmt(v, p.xd),
            autoSkip: false,
            maxRotation: 0,
            color: '#333',
            padding: 1,
            font: { size: 7 }
          },
          grid: { drawOnChartArea: false, tickLength: 2, color: '#a9a9a9' },
          border: { color: '#a9a9a9' }
        },
        y: {
          min: p.yr[0],
          max: p.yr[1],
          afterFit: s => { s.width = 25; },
          afterBuildTicks: s => { s.ticks = p.t.y.map(v => ({ value: v })); },
          ticks: {
            callback: v => fmt(v, p.yd),
            autoSkip: false,
            color: '#333',
            padding: 1,
            font: { size: 7 }
          },
          grid: { drawOnChartArea: false, tickLength: 2, color: '#a9a9a9' },
          border: { color: '#a9a9a9' },
          title: {
            display: true,
            text: 'SHAP value',
            color: '#222',
            font: { size: 7 },
            padding: { top: 2, bottom: 0 }
          }
        }
      }
    },
    plugins: [frame]
  });
});
</script>
</body>
</html>
